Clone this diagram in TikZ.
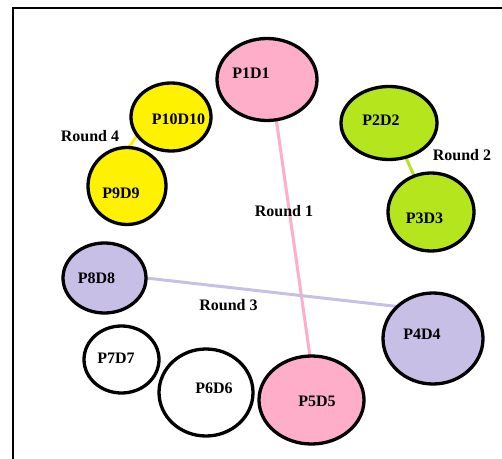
\documentclass[tikz,border=0pt]{standalone}
\usepackage{fontspec}
\setmainfont{Liberation Serif}
\usetikzlibrary{shapes.geometric,backgrounds}
\definecolor{roseP}{HTML}{FFAEC9}
\definecolor{limeP}{HTML}{B5E61D}
\definecolor{yellowP}{HTML}{FFF200}
\definecolor{lavenderP}{HTML}{C8BFE7}
\tikzset{
  proc/.style={ellipse, draw=black, line width=3.3bp, inner sep=0pt, outer sep=0pt},
  tag/.style={font=\fontsize{16bp}{19bp}\selectfont\bfseries, inner sep=0pt},
  link/.style={line width=3bp},
}
\begin{document}
\begin{tikzpicture}[x=1bp, y=-1bp]
  \useasboundingbox (0,0) rectangle (502,459);
  % outer frame (top and left sides)
  \draw[line width=2bp] (13,459) -- (13,8.3) -- (502,8.3);

  % processes
  \node[proc, fill=roseP,     minimum width=100bp, minimum height=82bp] (p1)  at (267,79.5) {};
  \node[proc, fill=limeP,     minimum width=96bp,  minimum height=73bp] (p2)  at (389,123) {};
  \node[proc, fill=limeP,     minimum width=86bp,  minimum height=78bp] (p3)  at (431,212) {};
  \node[proc, fill=lavenderP, minimum width=100bp, minimum height=91bp] (p4)  at (433,338.5) {};
  \node[proc, fill=roseP,     minimum width=105bp, minimum height=88bp] (p5)  at (311.5,400) {};
  \node[proc, fill=white,     minimum width=94bp,  minimum height=87bp] (p6)  at (206,392.5) {};
  \node[proc, fill=white,     minimum width=75bp,  minimum height=67bp] (p7)  at (121.5,359.5) {};
  \node[proc, fill=lavenderP, minimum width=83bp,  minimum height=70bp] (p8)  at (104.5,278) {};
  \node[proc, fill=yellowP,   minimum width=78bp,  minimum height=77bp] (p9)  at (127,186) {};
  \node[proc, fill=yellowP,   minimum width=80bp,  minimum height=68bp] (p10) at (171,117) {};

  % pairings, one per round
  \begin{scope}[on background layer]
    \draw[link, roseP]     (p1.283)  -- (p5.92);
    \draw[link, limeP]     (p2.296)  -- (p3.115);
    \draw[link, lavenderP] (p8.east) -- (p4.138);
    \draw[link, yellowP]   (p10.208) -- (p9.87);
  \end{scope}

  % process labels
  \node[tag] (t1)  at (251,73)    {P1D1};
  \node[tag] (t2)  at (381,120)   {P2D2};
  \node[tag] (t3)  at (424.5,218) {P3D3};
  \node[tag] (t4)  at (422,334)   {P4D4};
  \node[tag] (t5)  at (317,401)   {P5D5};
  \node[tag] (t6)  at (214,388)   {P6D6};
  \node[tag] (t7)  at (116,358)   {P7D7};
  \node[tag] (t8)  at (96.5,278)  {P8D8};
  \node[tag] (t9)  at (121,193)   {P9D9};
  \node[tag] (t10) at (178.5,119) {P10D10};

  % round labels
  \node[tag] (r1) at (284,211)   {Round 1};
  \node[tag] (r2) at (462,155)   {Round 2};
  \node[tag] (r3) at (228.5,305) {Round 3};
  \node[tag] (r4) at (90,136)    {Round 4};
\end{tikzpicture}
\end{document}
